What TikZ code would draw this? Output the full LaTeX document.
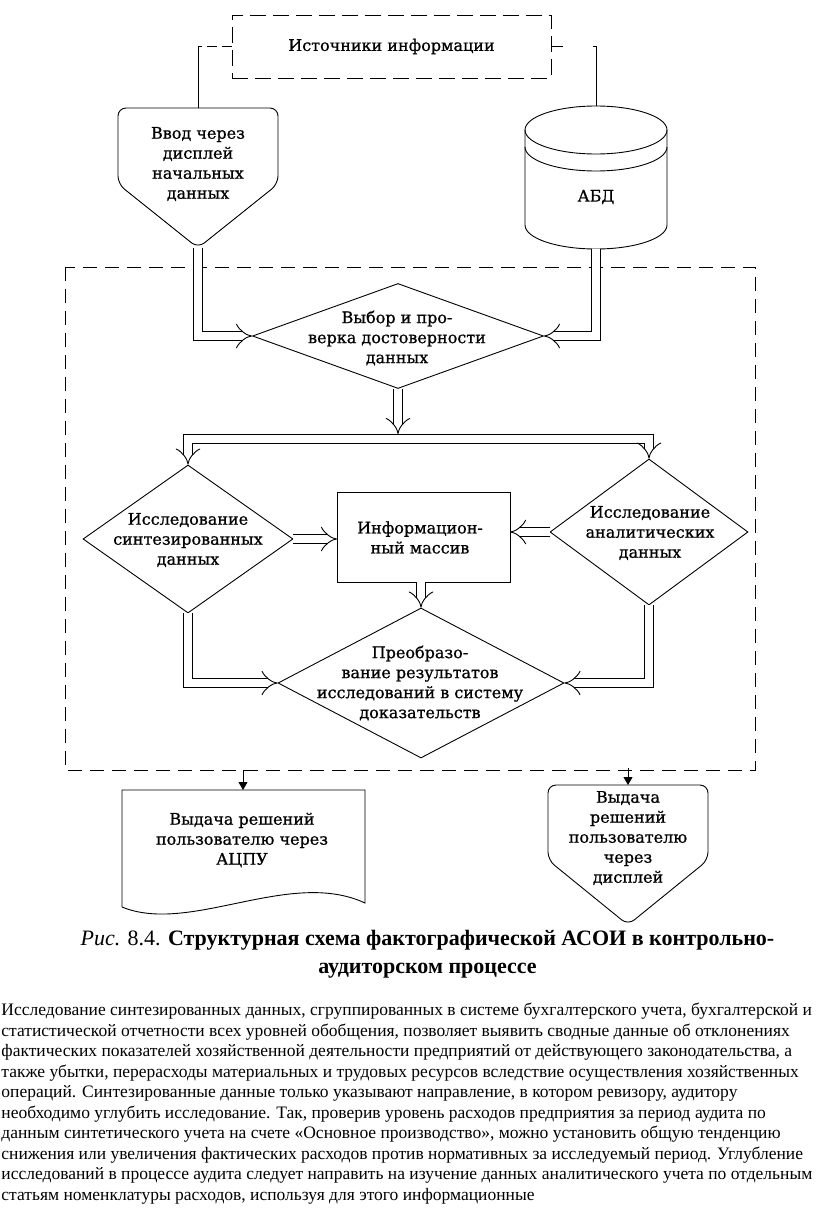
\documentclass[tikz,border=0pt]{standalone}
\usepackage{fontspec}
\setmainfont{Liberation Serif}
\newfontfamily\schemefont[FakeBold=0.8]{DejaVu Serif}
\usetikzlibrary{shapes.geometric,arrows.meta,calc}
\tikzset{
  lbl/.style={font=\schemefont\fontsize{16}{20}\selectfont, align=center, inner sep=0pt},
  slot/.style={inner sep=0pt, outer sep=0pt},
  dia/.style={diamond, draw, inner sep=0pt},
  hollow/.style={double, double distance=8pt, -{Implies}},
  dashframe/.style={dash pattern=on 14pt off 8pt},
  drop/.style={-{Triangle[length=8pt,width=9pt]}}
}
\begin{document}
\begin{tikzpicture}[x=1pt,y=-1pt,line width=0.9pt]
  \useasboundingbox (0,0) rectangle (816,1209);
  \fill[white] (0,0) rectangle (816,1209);
  \draw[dashframe] (65,267) rectangle (755,770);

  \node[lbl, draw, dash pattern=on 16pt off 7pt, minimum width=319pt, minimum height=63pt] (src) at (391.5,46.5) {Источники информации};

  \node[slot, minimum width=160pt, minimum height=140pt] (inp) at (198,178) {};
  \draw[rounded corners=8pt] (inp.south) -- (118,184) -- (inp.north west) -- (inp.north east) -- (278,184) -- cycle;
  \node[lbl] (inp-t) at (198,164) {Ввод через\\дисплей\\начальных\\данных};

  \node[slot, minimum width=142pt, minimum height=143pt] (abd) at (596,177.5) {};
  \draw (abd.north west |- 0,130) -- (abd.north west |- 0,225) arc[start angle=180, end angle=360, x radius=71pt, y radius=24pt] -- (abd.north east |- 0,130);
  \draw (596,130) ellipse[x radius=71pt, y radius=24pt];
  \draw (525,147) arc[start angle=180, end angle=360, x radius=71pt, y radius=24pt];
  \node[lbl] (abd-t) at (596,197) {АБД};

  \draw[dash pattern=on 10pt off 5pt] (src.west) -- (src.west -| inp.north) coordinate (s1);
  \draw (s1) -- (inp.north);
  \draw[dash pattern=on 12pt off 30pt] (src.east) -- (src.east -| abd.north) coordinate (s2);
  \draw (s2) -- (abd.north);

  \node[dia, minimum width=291pt, minimum height=105pt] (sel) at (398,336) {};
  \node[lbl] (sel-t) at (397,338) {Выбор и про-\\верка достоверности\\данных};

  \node[dia, minimum width=210pt, minimum height=148pt] (syn) at (188,539) {};
  \node[lbl] (syn-t) at (188,540) {Исследование\\синтезированных\\данных};

  \node[draw, slot, minimum width=173pt, minimum height=90pt] (arr) at (423.5,537) {};
  \node[lbl] (arr-t) at (420,537.5) {Информацион-\\ный массив};

  \node[dia, minimum width=198pt, minimum height=146pt] (ana) at (649,532) {};
  \node[lbl] (ana-t) at (650,533) {Исследование\\аналитических\\данных};

  \node[dia, minimum width=286pt, minimum height=150pt] (res) at (421,683) {};
  \node[lbl] (res-t) at (420,683) {Преобразо-\\вание результатов\\исследований в систему\\доказательств};

  \coordinate (fork) at (398,439);
  \draw[hollow] (inp.south) |- (sel.west);
  \draw[hollow] (abd.south) |- (sel.east);
  \draw[hollow] (sel.south) -- ([yshift=5pt]fork);
  \draw[hollow, {Implies}-{Implies}] (syn.north) -- (syn.north |- fork) -- (ana.north |- fork) -- (ana.north);
  \draw[hollow] (syn.east) -- (syn.east -| arr.west);
  \draw[hollow] (ana.west) -- (ana.west -| arr.east);
  \draw[hollow] (arr.south -| res.north) -- (res.north);
  \draw[hollow] (syn.south) |- (res.west);
  \draw[hollow] (ana.south) |- (res.east);

  \node[slot, minimum width=243pt, minimum height=117pt] (prn) at (243.5,848.5) {};
  \draw (122,907) -- (prn.north west) -- (prn.north east) -- (365,903) .. controls (290,868) and (190,935) .. (122,907);
  \node[lbl] (prn-t) at (242,840) {Выдача решений\\пользователю через\\АЦПУ};

  \node[slot, minimum width=160pt, minimum height=140pt] (dsp) at (628,855) {};
  \draw[rounded corners=8pt] (dsp.south) -- (548,860) -- (dsp.north west) -- (dsp.north east) -- (708,860) -- cycle;
  \node[lbl] (dsp-t) at (628,838) {Выдача\\решений\\пользователю\\через\\дисплей};

  \coordinate (o1) at (243,770);
  \coordinate (o2) at (628,768);
  \draw[drop] (o1) -- (o1 |- prn.north);
  \draw[drop] (o2) -- (o2 |- dsp.north);

  \node[anchor=north, align=center, inner sep=0pt, font=\fontsize{22}{28}\selectfont] (cap) at (427.5,930)
    {\textit{Рис.} 8.4. \textbf{Структурная схема фактографической АСОИ в контрольно-}\\\textbf{аудиторском процессе}};

  \node[anchor=north west, align=left, inner sep=0pt, font=\fontsize{17.5}{20.5}\selectfont] (txt) at (1,1003)
    {Исследование синтезированных данных, сгруппированных в системе бухгалтерского учета, бухгалтерской и\\
     статистической отчетности всех уровней обобщения, позволяет выявить сводные данные об отклонениях\\
     фактических показателей хозяйственной деятельности предприятий от действующего законодательства, а\\
     также убытки, перерасходы материальных и трудовых ресурсов вследствие осуществления хозяйственных\\
     операций. Синтезированные данные только указывают направление, в котором ревизору, аудитору\\
     необходимо углубить исследование. Так, проверив уровень расходов предприятия за период аудита по\\
     данным синтетического учета на счете «Основное производство», можно установить общую тенденцию\\
     снижения или увеличения фактических расходов против нормативных за исследуемый период. Углубление\\
     исследований в процессе аудита следует направить на изучение данных аналитического учета по отдельным\\
     статьям номенклатуры расходов, используя для этого информационные};
\end{tikzpicture}
\end{document}
